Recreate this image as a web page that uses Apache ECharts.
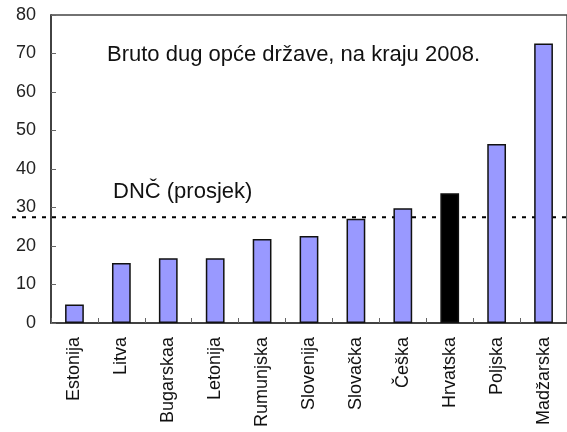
<!DOCTYPE html>
<html>
<head>
<meta charset="utf-8">
<script src="https://cdn.jsdelivr.net/npm/echarts@6/dist/echarts.min.js"></script>
<style>
  html, body { margin: 0; padding: 0; background: #fff; }
  #chart { width: 567px; height: 432px; }
</style>
</head>
<body>
<div id="chart"></div>
<script>
// zemlje i bruto dug (% BDP-a), kraj 2008.
var countries = ['Estonija', 'Litva', 'Bugarskaa', 'Letonija', 'Rumunjska', 'Slovenija', 'Slovačka', 'Češka', 'Hrvatska', 'Poljska', 'Madžarska'];
var debt = [4.8, 15.6, 16.8, 16.8, 21.8, 22.6, 27.1, 29.8, 33.7, 46.5, 72.6];
var highlight = 'Hrvatska';
var average = 27.5; // DNČ (prosjek)
var yTicks = [0, 10, 20, 30, 40, 50, 60, 70, 80];

var font = '"Liberation Sans", Arial, sans-serif';
var chart = echarts.init(document.getElementById('chart'));

var barData = countries.map(function (c, i) {
    return {
        value: debt[i],
        itemStyle: { color: c === highlight ? '#000000' : '#9999ff' }
    };
});

chart.setOption({
    animation: false,
    backgroundColor: '#fff',
    grid: {
        left: 51, right: -4, top: 15, bottom: 109,
        show: true, borderColor: '#444', borderWidth: 1.5, backgroundColor: 'transparent'
    },
    xAxis: {
        type: 'category',
        data: countries,
        axisLine: { lineStyle: { color: '#333', width: 1.5 } },
        axisTick: { show: true, inside: true, length: 5, lineStyle: { color: '#666' } },
        axisLabel: { rotate: 90, margin: 14, fontSize: 18, fontFamily: font, color: '#111' }
    },
    yAxis: {
        type: 'value',
        min: yTicks[0], max: yTicks[yTicks.length - 1], interval: 10,
        splitLine: { show: false },
        axisLine: { show: true, lineStyle: { color: '#333', width: 1.5 } },
        axisTick: { show: true, inside: true, length: 5, lineStyle: { color: '#666' } },
        axisLabel: { margin: 15, fontSize: 18, fontFamily: font, color: '#222' }
    },
    series: [{
        type: 'bar',
        data: barData,
        barWidth: '40%',
        itemStyle: { borderColor: '#111', borderWidth: 1.5 }
    }]
});

// isprekidana linija prosjeka (prelazi i lijevo od osi)
var yAvg = chart.convertToPixel({ yAxisIndex: 0 }, average);
chart.setOption({
    graphic: [
        {
            type: 'line', silent: true,
            shape: { x1: 12, y1: yAvg, x2: 567, y2: yAvg },
            style: { stroke: '#000', lineWidth: 2, lineDash: [4, 6] }
        },
        {
            type: 'text', left: 107, top: 44,
            style: { text: 'Bruto dug opće države, na kraju 2008.', font: '22px ' + font, fill: '#111' }
        },
        {
            type: 'text', left: 113, top: 181,
            style: { text: 'DNČ (prosjek)', font: '22px ' + font, fill: '#111' }
        }
    ]
});

window.addEventListener('resize', function () {
    chart.resize();
});
</script>
</body>
</html>
